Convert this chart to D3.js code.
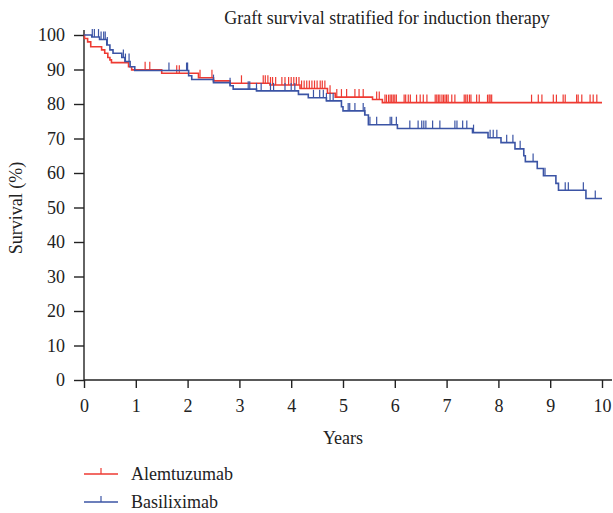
<!DOCTYPE html>
<html>
<head>
<meta charset="utf-8">
<script src="https://cdn.jsdelivr.net/npm/d3@7"></script>
<style>
body { margin: 0; background: #fff; }
text { font-family: "Liberation Serif", serif; fill: #222; }
</style>
</head>
<body>
<script>
const width = 613;
const height = 513;

const years = [0, 1, 2, 3, 4, 5, 6, 7, 8, 9, 10];
const survivalTicks = [0, 10, 20, 30, 40, 50, 60, 70, 80, 90, 100];

// step curves: [time (years), survival (%)]
const alemSteps = [[0,100],[0.01,99],[0.07,98],[0.13,96.6],[0.34,95.7],[0.4,94.7],[0.46,93.5],[0.5,92.8],[0.53,92],
 [0.86,90.8],[0.92,89.9],[1.5,88.9],[2.21,87.6],[2.5,86.7],[2.82,86],[3.59,85.5],[4.17,84.5],[4.7,83.1],
 [4.85,82],[5.57,81.3],[5.76,80.4],[10,80.4]];
const alemCensor = [1.18,1.27,1.79,1.84,2.24,2.47,3.04,3.46,3.5,3.55,3.6,3.64,3.7,3.82,3.88,3.95,4.0,4.05,4.1,4.15,
 4.2,4.25,4.3,4.35,4.4,4.45,4.5,4.56,4.6,4.65,4.75,4.88,4.97,5.07,5.23,5.31,5.39,5.65,5.7,5.81,5.84,5.88,5.91,5.94,
 5.97,6.0,6.03,6.18,6.21,6.26,6.3,6.42,6.49,6.55,6.62,6.78,6.81,6.84,6.87,6.91,6.94,6.97,7.0,7.03,7.1,7.16,7.34,7.37,
 7.4,7.44,7.47,7.58,7.63,7.79,7.82,7.84,7.87,8.64,8.77,8.84,9.06,9.12,9.25,9.29,9.51,9.54,9.61,9.77,9.83,9.9];

const basiSteps = [[0,100],[0.15,99.4],[0.3,98.7],[0.44,97.1],[0.5,95.7],[0.56,94.7],[0.73,93.5],[0.79,92.3],
 [0.89,90.8],[0.98,89.7],[2.02,88.2],[2.08,87.1],[2.5,86.2],[2.82,85.3],[2.88,84.3],[3.33,83.8],[4.14,82.8],
 [4.33,81.8],[4.68,80.9],[4.97,79.2],[5.0,78],[5.42,76.8],[5.49,74],[6.05,72.9],[7.5,71.7],[7.8,70.2],[8.05,68.8],
 [8.32,67],[8.49,65],[8.52,63.3],[8.75,61.3],[8.87,59.2],[9.11,57],[9.16,55],[9.69,52.6],[10,52.6]];
const basiCensor = [0.16,0.2,0.28,0.33,0.38,0.41,0.45,0.76,0.8,0.87,1.64,1.98,2.0,2.5,2.82,3.17,3.2,3.33,3.42,3.6,
 3.66,3.88,4.0,4.07,4.43,4.55,4.62,4.68,4.75,4.81,5.1,5.13,5.23,5.39,5.42,5.52,5.65,5.91,5.94,6.03,6.29,6.45,6.52,
 6.56,6.6,6.73,6.87,7.16,7.2,7.31,7.39,7.52,7.84,7.9,7.97,8.16,8.28,8.42,8.67,8.9,9.29,9.35,9.64,9.87];

const groups = ["Alemtuzumab", "Basiliximab"];
const colors = ["#ee3a32", "#3b54a5"];

const x = d3.scaleLinear().domain([0, 10]).range([84, 602]);
const y = d3.scaleLinear().domain([0, 100]).range([380, 35]);

const svg = d3.select("body").append("svg")
  .attr("width", width)
  .attr("height", height);

svg.append("text")
  .attr("x", 387).attr("y", 24)
  .attr("text-anchor", "middle")
  .style("font-size", "18px")
  .text("Graft survival stratified for induction therapy");

const xAxis = svg.append("g")
  .attr("transform", "translate(0,380)")
  .call(d3.axisBottom(x).tickValues(years).tickSize(8).tickSizeOuter(0).tickPadding(11));
const yAxis = svg.append("g")
  .attr("transform", "translate(84,0)")
  .call(d3.axisLeft(y).tickValues(survivalTicks).tickSize(10).tickSizeOuter(0).tickPadding(9));
svg.selectAll(".domain").attr("stroke", "#222").attr("stroke-width", 1.4);
svg.selectAll(".tick line").attr("stroke", "#222").attr("stroke-width", 1.4);
svg.selectAll(".tick text").style("font-size", "18px").attr("fill", "#222")
  .style("font-family", "'Liberation Serif', serif");
xAxis.select(".domain").attr("d", "M84,0H612");
yAxis.select(".domain").attr("d", "M0,380V30");

svg.append("text")
  .attr("x", 343).attr("y", 444)
  .attr("text-anchor", "middle")
  .style("font-size", "18px")
  .text("Years");

svg.append("text")
  .attr("transform", "translate(22,208) rotate(-90)")
  .attr("text-anchor", "middle")
  .style("font-size", "18px")
  .text("Survival (%)");

function stepAt(steps, t) {
  let s = steps[0][1];
  for (const p of steps) { if (p[0] <= t) s = p[1]; }
  return s;
}

const line = d3.line().x(d => x(d[0])).y(d => y(d[1])).curve(d3.curveStepAfter);

[[alemSteps, alemCensor], [basiSteps, basiCensor]].forEach(([steps, censor], i) => {
  svg.append("path")
    .datum(steps)
    .attr("fill", "none")
    .attr("stroke", colors[i])
    .attr("stroke-width", 1.6)
    .attr("d", line);
  svg.append("g").selectAll("line")
    .data(censor)
    .join("line")
    .attr("x1", d => x(d)).attr("x2", d => x(d))
    .attr("y1", d => y(stepAt(steps, d)))
    .attr("y2", d => y(stepAt(steps, d)) - 8)
    .attr("stroke", colors[i])
    .attr("stroke-width", 1.2);
});

const legend = svg.append("g").selectAll("g")
  .data(groups)
  .join("g")
  .attr("transform", (d, i) => `translate(84,${474 + i * 28})`);
legend.append("line")
  .attr("x1", 0).attr("x2", 34).attr("y1", 0).attr("y2", 0)
  .attr("stroke", (d, i) => colors[i]).attr("stroke-width", 1.4);
legend.append("line")
  .attr("x1", 17).attr("x2", 17).attr("y1", 0).attr("y2", -6)
  .attr("stroke", (d, i) => colors[i]).attr("stroke-width", 1.2);
legend.append("text")
  .attr("x", 47).attr("y", 6)
  .style("font-size", "18px")
  .text(d => d);
</script>
</body>
</html>
